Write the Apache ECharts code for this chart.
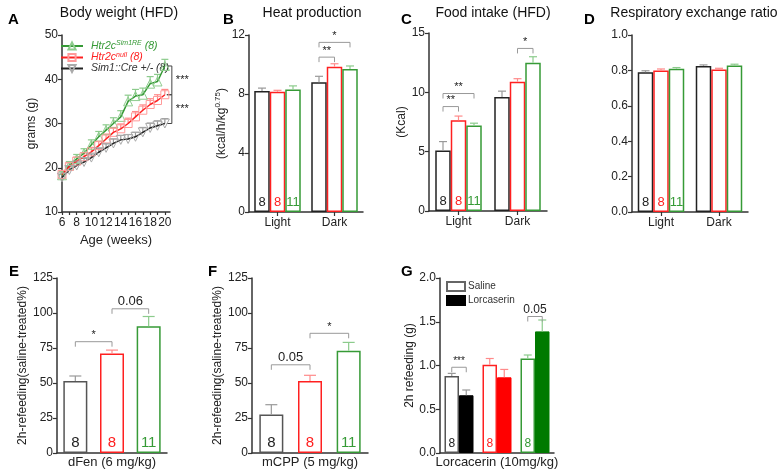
<!DOCTYPE html>
<html>
<head>
<meta charset="utf-8">
<script src="https://cdn.jsdelivr.net/npm/echarts@6/dist/echarts.min.js"></script>
<style>html,body{margin:0;padding:0;background:#fff}#main{width:780px;height:474px}</style>
</head>
<body>
<div id="main"></div>
<script>
// ---- data ----
const weeks = [6, 7, 8, 9, 10, 11, 12, 13, 14, 15, 16, 17, 18, 19, 20];
const weekTicks = [6, 8, 10, 12, 14, 16, 18, 20];
const bwSim1RE = [18.3, 20.5, 22.0, 23.3, 25.2, 27.0, 28.5, 30.0, 31.5, 35.0, 36.2, 36.5, 39.0, 39.5, 43.0];
const bwNull = [18.5, 20.3, 21.5, 22.5, 23.6, 25.0, 26.5, 28.0, 28.8, 30.0, 31.5, 33.0, 34.3, 35.2, 36.5];
const bwCre = [17.8, 19.5, 20.5, 21.3, 22.3, 23.5, 24.5, 25.5, 26.3, 26.5, 27.0, 28.0, 29.0, 29.5, 30.0];
const bwSim1REErr = [0.8, 0.9, 1.0, 1.0, 1.1, 1.2, 1.2, 1.3, 1.4, 1.4, 1.5, 1.5, 1.6, 1.6, 1.5];
const bwNullErr = [0.8, 0.8, 0.9, 0.9, 1.0, 1.0, 1.1, 1.1, 1.1, 1.2, 1.2, 1.2, 1.3, 1.3, 1.2];
const bwCreErr = [0.7, 0.7, 0.8, 0.8, 0.8, 0.9, 0.9, 1.0, 1.0, 1.0, 1.0, 1.1, 1.1, 1.1, 1.1];
const bwSig = [[20, 43, 36.5, '***'], [20, 36.5, 30, '***']];

const phases = ['Light', 'Dark'];
const groupN = ['8', '8', '11'];

const heatCre = [8.2, 8.8], heatNull = [8.15, 9.85], heatSim = [8.3, 9.7];
const heatCreErr = [0.2, 0.4], heatNullErr = [0.1, 0.2], heatSimErr = [0.25, 0.2];
const heatSig = [[1, 0, 1, 1, 10.5, '**'], [1, 0, 1, 2, 11.5, '*']];

const foodCre = [5.1, 9.6], foodNull = [7.65, 10.9], foodSim = [7.2, 12.5];
const foodCreErr = [0.75, 0.5], foodNullErr = [0.35, 0.25], foodSimErr = [0.2, 0.5];
const foodSig = [[0, 0, 0, 1, 8.8, '**'], [0, 0, 0, 2, 9.9, '**'], [1, 1, 1, 2, 13.7, '*']];

const rerCre = [0.79, 0.825], rerNull = [0.80, 0.805], rerSim = [0.81, 0.828];
const rerCreErr = [0.008, 0.006], rerNullErr = [0.008, 0.007], rerSimErr = [0.006, 0.007];

const drugGroups = ['Sim1::Cre', 'Htr2c null', 'Htr2c Sim1RE'];
const dfenVals = [51.5, 71, 90.5], dfenErr = [3.5, 2.5, 7];
const dfenSig = [[0, 0, 1, 0, 79.5, '*'], [1, 0, 2, 0, 103, '0.06']];
const mcppVals = [27.5, 51.5, 73], mcppErr = [7, 4, 6];
const mcppSig = [[0, 0, 1, 0, 63, '0.05'], [1, 0, 2, 0, 85.5, '*']];

const salineVals = [0.88, 1.01, 1.08], salineErr = [0.03, 0.07, 0.04];
const lorcVals = [0.66, 0.865, 1.39], lorcErr = [0.06, 0.09, 0.13];
const lorcSig = [[0, 0, 0, 1, 0.98, '***'], [2, 0, 2, 1, 1.56, '0.05']];

// ---- styles ----
const FONT = '"Liberation Sans", Arial, sans-serif';
const BLK = '#222', RED = '#ff2020', GRN = '#369a36';
const BLK_E = '#999', RED_E = '#ff8a8a', GRN_E = '#8ccb8c';
const groupColors = [BLK, RED, GRN];
const errColors = [BLK_E, RED_E, GRN_E];
const fillColors = ['#000', '#ff0000', '#007a00'];

function shiftOf(slot, nBars, barW) {
  return (slot - (nBars - 1) / 2) * barW;
}

// upper error bar with cap; colour either fixed or one per data index
function errSeries(gi, xs, vals, errs, color, shift, cap) {
  return {
    type: 'custom', xAxisIndex: gi, yAxisIndex: gi, z: 3, silent: true,
    renderItem: function (params, api) {
      const p = api.coord([api.value(0), api.value(1)]);
      const q = api.coord([api.value(0), api.value(1) + api.value(2)]);
      const x = p[0] + shift;
      const c = Array.isArray(color) ? color[params.dataIndex] : color;
      return {
        type: 'group', children: [
          { type: 'line', shape: { x1: x, y1: p[1], x2: x, y2: q[1] }, style: { stroke: c, lineWidth: 1.2 } },
          { type: 'line', shape: { x1: x - cap, y1: q[1], x2: x + cap, y2: q[1] }, style: { stroke: c, lineWidth: 1.2 } }
        ]
      };
    },
    data: vals.map((v, i) => [xs[i], v, errs[i]])
  };
}

function sigSeries(gi, items, nBars, barW, fs) {
  return {
    type: 'custom', xAxisIndex: gi, yAxisIndex: gi, z: 3, silent: true,
    renderItem: function (params, api) {
      const it = items[params.dataIndex];
      const a = api.coord([it[0], it[4]]);
      const b = api.coord([it[2], it[4]]);
      const x1 = a[0] + shiftOf(it[1], nBars, barW);
      const x2 = b[0] + shiftOf(it[3], nBars, barW);
      const y = a[1];
      return {
        type: 'group', children: [
          { type: 'polyline', shape: { points: [[x1, y + 5], [x1, y], [x2, y], [x2, y + 5]] }, style: { stroke: '#999', lineWidth: 1, fill: null } },
          { type: 'text', style: { text: it[5], x: (x1 + x2) / 2, y: y - 1, align: 'center', verticalAlign: 'bottom', fill: '#222', fontSize: it[5].indexOf('0.') === 0 ? fs + 2 : fs, fontFamily: FONT } }
        ]
      };
    },
    data: items.map(it => [it[0], it[4]])
  };
}

function groupBar(gi, name, vals, color, barW, label) {
  return {
    type: 'bar', name: name, xAxisIndex: gi, yAxisIndex: gi, barWidth: barW, barGap: '0%', z: 2,
    itemStyle: { color: '#fff', borderColor: color, borderWidth: 1.5 },
    data: vals.map((v, i) => i === 0 ? {
      value: v,
      label: { show: true, position: 'insideBottom', distance: 3, formatter: label, color: color, fontSize: 13, fontFamily: FONT }
    } : v)
  };
}

const axisLineStyle = { show: true, lineStyle: { color: '#333', width: 1.5 } };
const tickStyle = { show: true, length: 4, lineStyle: { color: '#333', width: 1.2 } };

function yAx(gi, min, max, interval, name, gap, digits) {
  return {
    type: 'value', gridIndex: gi, min: min, max: max, interval: interval,
    axisLine: axisLineStyle, axisTick: tickStyle, splitLine: { show: false },
    axisLabel: { color: '#222', fontSize: 12, margin: 4, formatter: v => digits ? v.toFixed(digits) : v },
    name: name, nameLocation: 'middle', nameGap: gap,
    nameTextStyle: { color: '#222', fontSize: 12, rich: { s: { fontSize: 8, padding: [0, 0, 7, 0] } } }
  };
}

function catAx(gi, data, show, name) {
  return {
    type: 'category', gridIndex: gi, data: data,
    axisLine: axisLineStyle,
    axisTick: show ? Object.assign({ alignWithLabel: true }, tickStyle) : { show: false },
    axisLabel: { show: show, color: '#222', fontSize: 12, margin: 5 },
    name: name, nameLocation: 'middle', nameGap: 3,
    nameTextStyle: { color: '#222', fontSize: 13, verticalAlign: 'top' }
  };
}

const chart = echarts.init(document.getElementById('main'));

const letterStyle = { fontSize: 15, fontWeight: 'bold', color: '#000', fontFamily: FONT };
const titleStyle = { fontSize: 14, fontWeight: 'normal', color: '#111', fontFamily: FONT };

const barW3 = 15.5, barWE = 24, barWG = 14.5;

const series = [
  // A
  errSeries(0, weeks, bwCre, bwCreErr, BLK_E, 0, 3.5),
  errSeries(0, weeks, bwNull, bwNullErr, RED_E, 0, 3.5),
  errSeries(0, weeks, bwSim1RE, bwSim1REErr, GRN_E, 0, 3.5),
  {
    type: 'line', name: 'Htr2c Sim1RE', xAxisIndex: 0, yAxisIndex: 0, z: 4,
    data: weeks.map((w, i) => [w, bwSim1RE[i]]),
    symbol: 'triangle', symbolSize: 9,
    lineStyle: { color: GRN, width: 1.5 },
    itemStyle: { color: 'rgba(255,255,255,0)', borderColor: '#8fcc8f', borderWidth: 1 }
  },
  {
    type: 'line', name: 'Htr2c null', xAxisIndex: 0, yAxisIndex: 0, z: 4,
    data: weeks.map((w, i) => [w, bwNull[i]]),
    symbol: 'rect', symbolSize: 8,
    lineStyle: { color: RED, width: 1.5 },
    itemStyle: { color: 'rgba(255,255,255,0)', borderColor: '#ff9a9a', borderWidth: 1 }
  },
  {
    type: 'line', name: 'Sim1::Cre +/-', xAxisIndex: 0, yAxisIndex: 0, z: 4,
    data: weeks.map((w, i) => [w, bwCre[i]]),
    symbol: 'path://M0,0 L10,0 L5,9 Z', symbolSize: 9,
    lineStyle: { color: BLK, width: 1.5 },
    itemStyle: { color: 'rgba(255,255,255,0)', borderColor: '#aaa', borderWidth: 1 }
  },
  {
    type: 'custom', xAxisIndex: 0, yAxisIndex: 0, z: 3, silent: true,
    renderItem: function (params, api) {
      const it = bwSig[params.dataIndex];
      const a = api.coord([it[0], it[1]]);
      const b = api.coord([it[0], it[2]]);
      const x = a[0] + 7;
      return {
        type: 'group', children: [
          { type: 'polyline', shape: { points: [[x - 5, a[1]], [x, a[1]], [x, b[1]], [x - 5, b[1]]] }, style: { stroke: '#444', lineWidth: 1, fill: null } },
          { type: 'text', style: { text: it[3], x: x + 4, y: (a[1] + b[1]) / 2, align: 'left', verticalAlign: 'middle', fill: '#222', fontSize: 11, fontFamily: FONT } }
        ]
      };
    },
    data: bwSig.map(it => [it[0], it[1]])
  },
  // B
  groupBar(1, 'heat-cre', heatCre, BLK, barW3, groupN[0]),
  groupBar(1, 'heat-null', heatNull, RED, barW3, groupN[1]),
  groupBar(1, 'heat-sim', heatSim, GRN, barW3, groupN[2]),
  errSeries(1, [0, 1], heatCre, heatCreErr, BLK_E, shiftOf(0, 3, barW3), 4),
  errSeries(1, [0, 1], heatNull, heatNullErr, RED_E, shiftOf(1, 3, barW3), 4),
  errSeries(1, [0, 1], heatSim, heatSimErr, GRN_E, shiftOf(2, 3, barW3), 4),
  sigSeries(1, heatSig, 3, barW3, 11),
  // C
  groupBar(2, 'food-cre', foodCre, BLK, barW3, groupN[0]),
  groupBar(2, 'food-null', foodNull, RED, barW3, groupN[1]),
  groupBar(2, 'food-sim', foodSim, GRN, barW3, groupN[2]),
  errSeries(2, [0, 1], foodCre, foodCreErr, BLK_E, shiftOf(0, 3, barW3), 4),
  errSeries(2, [0, 1], foodNull, foodNullErr, RED_E, shiftOf(1, 3, barW3), 4),
  errSeries(2, [0, 1], foodSim, foodSimErr, GRN_E, shiftOf(2, 3, barW3), 4),
  sigSeries(2, foodSig, 3, barW3, 11),
  // D
  groupBar(3, 'rer-cre', rerCre, BLK, barW3, groupN[0]),
  groupBar(3, 'rer-null', rerNull, RED, barW3, groupN[1]),
  groupBar(3, 'rer-sim', rerSim, GRN, barW3, groupN[2]),
  errSeries(3, [0, 1], rerCre, rerCreErr, BLK_E, shiftOf(0, 3, barW3), 4),
  errSeries(3, [0, 1], rerNull, rerNullErr, RED_E, shiftOf(1, 3, barW3), 4),
  errSeries(3, [0, 1], rerSim, rerSimErr, GRN_E, shiftOf(2, 3, barW3), 4),
  // E
  {
    type: 'bar', name: 'dfen', xAxisIndex: 4, yAxisIndex: 4, barWidth: barWE, z: 2,
    itemStyle: { color: '#fff', borderWidth: 1.5 },
    data: dfenVals.map((v, i) => ({
      value: v, itemStyle: { borderColor: i === 0 ? '#555' : groupColors[i] },
      label: { show: true, position: 'insideBottom', distance: 3, formatter: groupN[i], color: groupColors[i], fontSize: 15, fontFamily: FONT }
    }))
  },
  errSeries(4, [0, 1, 2], dfenVals, dfenErr, errColors, 0, 6),
  sigSeries(4, dfenSig, 1, barWE, 11),
  // F
  {
    type: 'bar', name: 'mcpp', xAxisIndex: 5, yAxisIndex: 5, barWidth: barWE, z: 2,
    itemStyle: { color: '#fff', borderWidth: 1.5 },
    data: mcppVals.map((v, i) => ({
      value: v, itemStyle: { borderColor: i === 0 ? '#555' : groupColors[i] },
      label: { show: true, position: 'insideBottom', distance: 3, formatter: groupN[i], color: groupColors[i], fontSize: 15, fontFamily: FONT }
    }))
  },
  errSeries(5, [0, 1, 2], mcppVals, mcppErr, errColors, 0, 6),
  sigSeries(5, mcppSig, 1, barWE, 11),
  // G
  {
    type: 'bar', name: 'Saline', xAxisIndex: 6, yAxisIndex: 6, barWidth: barWG, barGap: '0%', z: 2,
    itemStyle: { color: '#fff', borderColor: '#666', borderWidth: 1.5 },
    data: salineVals.map((v, i) => ({
      value: v, itemStyle: { borderColor: i === 0 ? '#555' : groupColors[i] },
      label: { show: true, position: 'insideBottom', distance: 3, formatter: '8', color: groupColors[i], fontSize: 12, fontFamily: FONT }
    }))
  },
  {
    type: 'bar', name: 'Lorcaserin', xAxisIndex: 6, yAxisIndex: 6, barWidth: barWG, barGap: '0%', z: 2,
    itemStyle: { color: '#000', borderColor: '#000', borderWidth: 1 },
    data: lorcVals.map((v, i) => ({ value: v, itemStyle: { color: fillColors[i], borderColor: fillColors[i] } }))
  },
  errSeries(6, [0, 1, 2], salineVals, salineErr, errColors, shiftOf(0, 2, barWG), 4),
  errSeries(6, [0, 1, 2], lorcVals, lorcErr, errColors, shiftOf(1, 2, barWG), 4),
  sigSeries(6, lorcSig, 2, barWG, 10)
];

const option = {
  animation: false,
  backgroundColor: '#fff',
  textStyle: { fontFamily: FONT },
  title: [
    { text: 'A', left: 3, top: 7, textStyle: letterStyle },
    { text: 'Body weight (HFD)', left: 114, top: 1, textAlign: 'center', textStyle: titleStyle },
    { text: 'B', left: 218, top: 7, textStyle: letterStyle },
    { text: 'Heat production', left: 307, top: 1, textAlign: 'center', textStyle: titleStyle },
    { text: 'C', left: 396, top: 7, textStyle: letterStyle },
    { text: 'Food intake (HFD)', left: 488, top: 1, textAlign: 'center', textStyle: titleStyle },
    { text: 'D', left: 579, top: 7, textStyle: letterStyle },
    { text: 'Respiratory exchange ratio', left: 689, top: 1, textAlign: 'center', textStyle: titleStyle },
    { text: 'E', left: 4, top: 259, textStyle: letterStyle },
    { text: 'F', left: 203, top: 259, textStyle: letterStyle },
    { text: 'G', left: 396, top: 259, textStyle: letterStyle }
  ],
  legend: [
    {
      data: ['Htr2c Sim1RE', 'Htr2c null', 'Sim1::Cre +/-'],
      orient: 'vertical', left: 55, top: 35, itemWidth: 22, itemHeight: 9, itemGap: 0,
      selectedMode: false,
      formatter: function (name) {
        if (name === 'Htr2c Sim1RE') return '{g|Htr2c}{gs|Sim1RE}{g| (8)}';
        if (name === 'Htr2c null') return '{r|Htr2c}{rs|null}{r| (8)}';
        return '{k|Sim1::Cre +/- (8)}';
      },
      textStyle: {
        fontSize: 10.5, padding: [0, 0, 0, 3],
        rich: {
          g: { color: GRN, fontStyle: 'italic', fontSize: 10.5, fontFamily: FONT },
          gs: { color: GRN, fontStyle: 'italic', fontSize: 7, padding: [0, 0, 5, 0], fontFamily: FONT },
          r: { color: RED, fontStyle: 'italic', fontSize: 10.5, fontFamily: FONT },
          rs: { color: RED, fontStyle: 'italic', fontSize: 7, padding: [0, 0, 5, 0], fontFamily: FONT },
          k: { color: '#333', fontStyle: 'italic', fontSize: 10.5, fontFamily: FONT }
        }
      }
    },
    {
      data: ['Saline', 'Lorcaserin'],
      orient: 'vertical', left: 441, top: 276, itemWidth: 18, itemHeight: 9, itemGap: 3,
      icon: 'rect', selectedMode: false,
      textStyle: { fontSize: 10, color: '#333', padding: [0, 0, 0, -2] }
    }
  ],
  grid: [
    { left: 62, top: 35, width: 108, height: 177 },
    { left: 249, top: 35, width: 114, height: 177 },
    { left: 429, top: 33, width: 118, height: 178 },
    { left: 632, top: 35, width: 116, height: 177 },
    { left: 57, top: 278, width: 110, height: 175 },
    { left: 252, top: 278, width: 116, height: 175 },
    { left: 440, top: 278, width: 114, height: 175 }
  ],
  xAxis: [
    {
      type: 'value', gridIndex: 0, min: 6, max: 20.7,
      axisLine: axisLineStyle,
      axisTick: Object.assign({ customValues: weeks }, tickStyle, { length: 3 }),
      axisLabel: { color: '#222', fontSize: 12, margin: 5, customValues: weekTicks },
      splitLine: { show: false },
      name: 'Age (weeks)', nameLocation: 'middle', nameGap: 22,
      nameTextStyle: { color: '#222', fontSize: 13, verticalAlign: 'top' }
    },
    catAx(1, phases, true, ''),
    catAx(2, phases, true, ''),
    catAx(3, phases, true, ''),
    catAx(4, drugGroups, false, 'dFen (6 mg/kg)'),
    catAx(5, drugGroups, false, 'mCPP (5 mg/kg)'),
    catAx(6, drugGroups, false, 'Lorcacerin (10mg/kg)')
  ],
  yAxis: [
    yAx(0, 10, 50, 10, 'grams (g)', 24, 0),
    yAx(1, 0, 12, 4, '(kcal/h/kg{s|0.75})', 17, 0),
    yAx(2, 0, 15, 5, '(Kcal)', 15, 0),
    yAx(3, 0, 1, 0.2, '', 10, 1),
    yAx(4, 0, 125, 25, '2h-refeeding(saline-treated%)', 22, 0),
    yAx(5, 0, 125, 25, '2h-refeeding(saline-treated%)', 22, 0),
    yAx(6, 0, 2, 0.5, '2h refeeding (g)', 24, 1)
  ],
  series: series
};

chart.setOption(option);
</script>
</body>
</html>
